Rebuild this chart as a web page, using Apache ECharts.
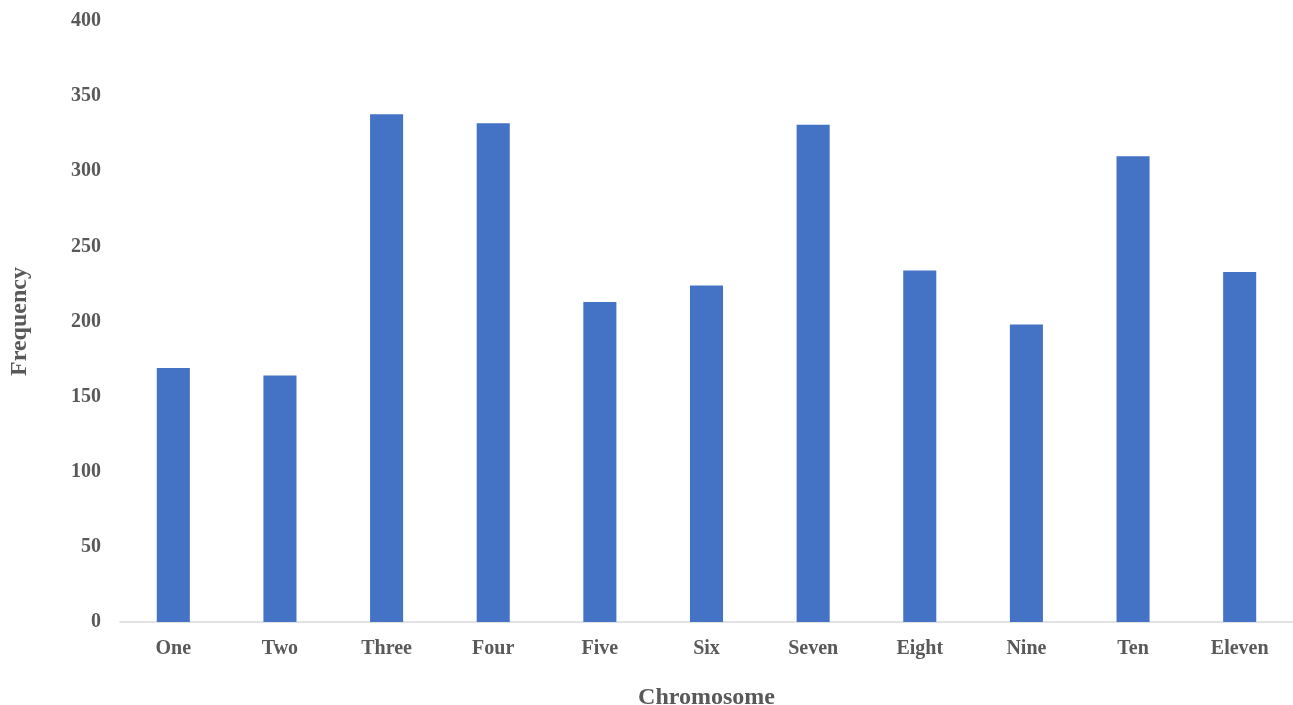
<!DOCTYPE html>
<html><head><meta charset="utf-8">
<script src="https://cdn.jsdelivr.net/npm/echarts@6/dist/echarts.min.js"></script>
<style>html,body{margin:0;padding:0;background:#fff;overflow:hidden}#c{width:1293px;height:705px}</style>
</head><body><div id="c"></div>
<script>
const categories = ["One","Two","Three","Four","Five","Six","Seven","Eight","Nine","Ten","Eleven"];
const frequency = [169, 164, 338, 332, 213, 224, 331, 234, 198, 310, 233];
const yTicks = {min: 0, max: 400, interval: 50};

const font = "'Liberation Serif','Times New Roman',serif";
const chart = echarts.init(document.getElementById('c'), null, {renderer: 'canvas', width: 1293, height: 705});
chart.setOption({
  animation: false,
  backgroundColor: '#ffffff',
  grid: {left: 120, width: 1173, top: 21, height: 601, containLabel: false, outerBoundsMode: 'none'},
  xAxis: {
    type: 'category', data: categories,
    name: 'Chromosome', nameLocation: 'middle', nameGap: 64,
    nameTextStyle: {fontFamily: font, fontWeight: 'bold', fontSize: 24, color: '#595959'},
    axisLine: {show: true, lineStyle: {color: '#d9d9d9', width: 1.5}},
    axisTick: {show: false},
    axisLabel: {fontFamily: font, fontWeight: 'bold', fontSize: 20, color: '#595959', margin: 17},
  },
  yAxis: {
    type: 'value', min: yTicks.min, max: yTicks.max, interval: yTicks.interval,
    name: 'Frequency', nameLocation: 'middle', nameGap: 88,
    nameTextStyle: {fontFamily: font, fontWeight: 'bold', fontSize: 24, color: '#595959'},
    axisLine: {show: false}, axisTick: {show: false},
    splitLine: {show: false},
    axisLabel: {fontFamily: font, fontWeight: 'bold', fontSize: 20, color: '#595959', margin: 19},
  },
  series: [{
    type: 'bar', data: frequency, barWidth: '31%',
    itemStyle: {color: '#4472c4'}
  }]
});
</script></body></html>
